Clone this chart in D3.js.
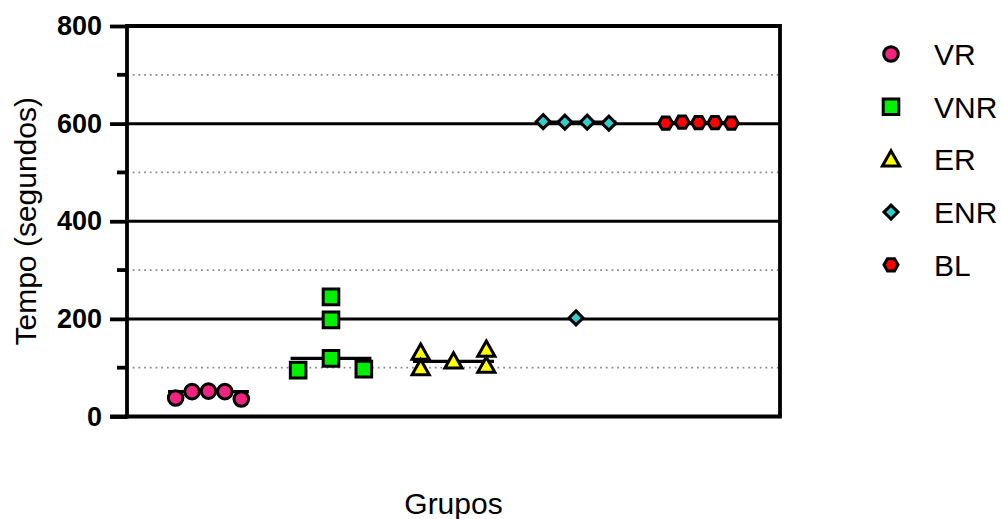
<!DOCTYPE html>
<html>
<head>
<meta charset="utf-8">
<script src="https://cdn.jsdelivr.net/npm/d3@7"></script>
<style>
  body { margin: 0; background: #fff; }
  text { font-family: Arial, "Liberation Sans", sans-serif; fill: #000; }
</style>
</head>
<body>
<svg id="chart" width="1001" height="519"></svg>
<script>
// Groups and measured times (seconds)
const groups = ["VR", "VNR", "ER", "ENR", "BL"];
const vrValues  = [38, 51, 52, 51, 36];
const vnrValues = [95, 245, 198, 119, 97];
const erValues  = [131, 99, 113, 137, 104];
const enrValues = [604, 603, 603, 601, 202];
const blValues  = [601, 603, 602, 602, 601];

// Side-by-side lane of each point inside its column (to avoid overlap)
const vrLanes  = [-2, -1, 0, 1, 2];
const vnrLanes = [-2, 0, 0, 0, 2];
const erLanes  = [-2, -2, 0, 2, 2];
const enrLanes = [-2, -0.68, 0.68, 2, 0];
const blLanes  = [-2, -1, 0, 1, 2];

const yMajorTicks = [0, 200, 400, 600, 800];
const yMinorTicks = [100, 300, 500, 700];
const yLabel = "Tempo (segundos)";
const xLabel = "Grupos";

const colors = ["#f0237f", "#00f000", "#ffff00", "#33cccc", "#ff0000"];

// Custom marker shapes (size = half-extent squared)
const shapes = {
  circle: { draw(ctx, size) { const r = Math.sqrt(size); ctx.moveTo(r, 0); ctx.arc(0, 0, r, 0, 2 * Math.PI); } },
  square: { draw(ctx, size) { const h = Math.sqrt(size); ctx.rect(-h, -h, 2 * h, 2 * h); } },
  triangle: { draw(ctx, size) { const h = Math.sqrt(size);
    ctx.moveTo(0, -h * 1.1); ctx.lineTo(h * 1.1, h * 0.85); ctx.lineTo(-h * 1.1, h * 0.85); ctx.closePath(); } },
  diamond: { draw(ctx, size) { const h = Math.sqrt(size);
    ctx.moveTo(0, -h); ctx.lineTo(h, 0); ctx.lineTo(0, h); ctx.lineTo(-h, 0); ctx.closePath(); } },
  hexagon: { draw(ctx, size) { const h = Math.sqrt(size), v = h * 0.87;
    ctx.moveTo(-h, 0); ctx.lineTo(-h / 2, -v); ctx.lineTo(h / 2, -v); ctx.lineTo(h, 0);
    ctx.lineTo(h / 2, v); ctx.lineTo(-h / 2, v); ctx.closePath(); } }
};
const shapeList = [shapes.circle, shapes.square, shapes.triangle, shapes.diamond, shapes.hexagon];
const shapeSize = [7.3 * 7.3, 7.8 * 7.8, 7.8 * 7.8, 7.0 * 7.0, 7.0 * 7.0];
const markerStroke = 3;

const series = [
  { name: groups[0], values: vrValues,  lanes: vrLanes },
  { name: groups[1], values: vnrValues, lanes: vnrLanes },
  { name: groups[2], values: erValues,  lanes: erLanes },
  { name: groups[3], values: enrValues, lanes: enrLanes },
  { name: groups[4], values: blValues,  lanes: blLanes }
];

const svg = d3.select("#chart");
const plot = { left: 127, right: 780, top: 26, bottom: 416.5 };

const x = d3.scalePoint().domain(groups).range([plot.left, plot.right]).padding(0.665);
const y = d3.scaleLinear().domain([0, 800]).range([plot.bottom, plot.top]);
const lane = d3.scaleLinear().domain([-1, 1]).range([-x.step() * 0.134, x.step() * 0.134]);

// Dotted minor gridlines
svg.append("g").selectAll("line").data(yMinorTicks).join("line")
  .attr("x1", plot.left).attr("x2", plot.right)
  .attr("y1", d => y(d)).attr("y2", d => y(d))
  .attr("stroke", "#8a8a8a").attr("stroke-width", 1.8).attr("stroke-dasharray", "1.8,3.9");

// Solid major gridlines
svg.append("g").selectAll("line").data(yMajorTicks.filter(d => d > 0 && d < 800)).join("line")
  .attr("x1", plot.left).attr("x2", plot.right)
  .attr("y1", d => y(d)).attr("y2", d => y(d))
  .attr("stroke", "#000").attr("stroke-width", 3);

// Median lines
svg.append("g").selectAll("line").data(series).join("line")
  .attr("x1", d => x(d.name) - x.step() * 0.33)
  .attr("x2", d => x(d.name) + x.step() * 0.33)
  .attr("y1", d => y(d3.median(d.values)))
  .attr("y2", d => y(d3.median(d.values)))
  .attr("stroke", "#000").attr("stroke-width", 3.2);

// Points
series.forEach((s, i) => {
  const sym = d3.symbol().type(shapeList[i]).size(shapeSize[i]);
  svg.append("g").selectAll("path").data(s.values.map((v, j) => ({ v, l: s.lanes[j] }))).join("path")
    .attr("d", sym)
    .attr("transform", d => `translate(${x(s.name) + lane(d.l)},${y(d.v)})`)
    .attr("fill", colors[i]).attr("stroke", "#000").attr("stroke-width", markerStroke)
    .attr("stroke-linejoin", "miter");
});

// Frame: top and right borders
svg.append("path")
  .attr("d", `M${plot.left},${plot.top}H${plot.right}V${plot.bottom}`)
  .attr("fill", "none").attr("stroke", "#000").attr("stroke-width", 3.8);

// X axis (no ticks)
svg.append("g").attr("transform", `translate(0,${plot.bottom})`)
  .call(d3.axisBottom(x).tickValues([]).tickSizeOuter(0))
  .call(g => g.select(".domain").attr("d", `M${plot.left - 17},0H${plot.right + 1.9}`)
    .attr("stroke", "#000").attr("stroke-width", 3.8));

// Y axis with major and minor ticks
const yAxis = svg.append("g").attr("transform", `translate(${plot.left},0)`);
yAxis.call(d3.axisLeft(y).tickValues(yMajorTicks).tickSize(17).tickPadding(8).tickSizeOuter(0))
  .call(g => g.select(".domain").attr("stroke", "#000").attr("stroke-width", 3.8)
    .attr("d", `M0,${plot.top - 1.9}V${plot.bottom + 1.9}`))
  .call(g => g.selectAll(".tick line").attr("stroke", "#000").attr("stroke-width", 3.8))
  .call(g => g.selectAll(".tick text").attr("font-size", 27).attr("font-weight", "bold")
    .attr("font-family", "Arial, 'Liberation Sans', sans-serif").attr("fill", "#000"));
yAxis.append("g").selectAll("line").data(yMinorTicks).join("line")
  .attr("x1", -10).attr("x2", 0).attr("y1", d => y(d)).attr("y2", d => y(d))
  .attr("stroke", "#000").attr("stroke-width", 3.8);

// Axis titles
svg.append("text")
  .attr("transform", `translate(36,${(plot.top + plot.bottom) / 2}) rotate(-90)`)
  .attr("text-anchor", "middle").attr("font-size", 30).text(yLabel);
svg.append("text")
  .attr("x", (plot.left + plot.right) / 2).attr("y", 514)
  .attr("text-anchor", "middle").attr("font-size", 30).text(xLabel);

// Legend
const legend = svg.append("g").selectAll("g").data(groups).join("g")
  .attr("transform", (d, i) => `translate(891,${54 + i * 52.7})`);
legend.append("path")
  .attr("d", (d, i) => d3.symbol().type(shapeList[i]).size(shapeSize[i])())
  .attr("fill", (d, i) => colors[i]).attr("stroke", "#000").attr("stroke-width", markerStroke);
legend.append("text")
  .attr("x", 43).attr("y", 11).attr("font-size", 30).text(d => d);
</script>
</body>
</html>
